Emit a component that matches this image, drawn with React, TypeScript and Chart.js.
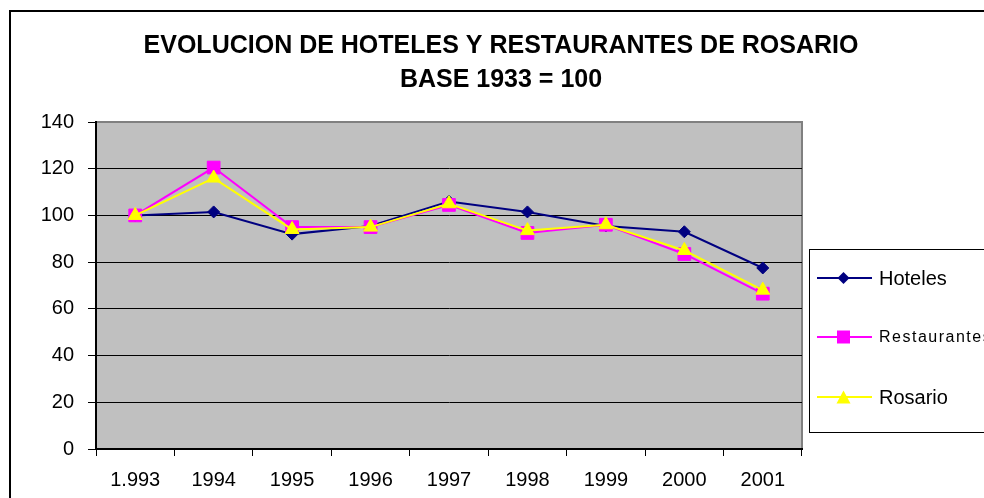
import React, { useEffect, useRef } from "react";
import { Chart, registerables } from "chart.js";

Chart.register(...registerables);

const categories = ["1.993", "1994", "1995", "1996", "1997", "1998", "1999", "2000", "2001"];
const hoteles = [100, 101.5, 92, 95.5, 106, 101.5, 95.5, 93, 77.5];
const restaurantes = [100, 120.5, 95, 95, 104.5, 92.5, 96, 83.5, 66.5];
const rosario = [100, 116, 94, 95, 105, 93.5, 96, 85, 68];
const titleLines = ["EVOLUCION DE HOTELES Y RESTAURANTES DE ROSARIO", "BASE 1933 = 100"];
const seriesNames = ["Hoteles", "Restaurantes", "Rosario"];

const FONT = "'Liberation Sans', Arial, sans-serif";
const W = 984;
const H = 498;

function drawMarker(ctx: CanvasRenderingContext2D, style: string, x: number, y: number, color: string) {
  ctx.fillStyle = color;
  ctx.beginPath();
  if (style === "rectRot") {
    const r = 6;
    ctx.moveTo(x, y - r);
    ctx.lineTo(x + r, y);
    ctx.lineTo(x, y + r);
    ctx.lineTo(x - r, y);
  } else if (style === "rect") {
    const s = 6.5;
    ctx.rect(x - s, y - s, 2 * s, 2 * s);
  } else {
    const hw = 7;
    const hh = 6.5;
    ctx.moveTo(x, y - hh);
    ctx.lineTo(x + hw, y + hh);
    ctx.lineTo(x - hw, y + hh);
  }
  ctx.closePath();
  ctx.fill();
}

const chromePlugin = {
  id: "chrome",
  beforeDraw(chart: any) {
    const { ctx, chartArea: a } = chart;
    ctx.save();
    ctx.fillStyle = "#ffffff";
    ctx.fillRect(0, 0, W, H);
    ctx.strokeStyle = "#000000";
    ctx.lineWidth = 2;
    ctx.strokeRect(10, 11, 1100, 600);
    ctx.fillStyle = "#C0C0C0";
    ctx.fillRect(a.left, a.top, a.right - a.left, a.bottom - a.top);
    ctx.strokeStyle = "#808080";
    ctx.lineWidth = 2;
    ctx.beginPath();
    ctx.moveTo(a.left, a.top);
    ctx.lineTo(a.right, a.top);
    ctx.lineTo(a.right, a.bottom);
    ctx.stroke();
    ctx.restore();
  },
  afterDraw(chart: any) {
    const { ctx } = chart;
    ctx.save();
    // title
    ctx.fillStyle = "#000000";
    ctx.textAlign = "center";
    ctx.textBaseline = "alphabetic";
    ctx.font = `bold 25px ${FONT}`;
    ctx.fillText(titleLines[0], 501, 53);
    ctx.fillText(titleLines[1], 501, 86.5);

    // legend
    ctx.strokeStyle = "#000000";
    ctx.lineWidth = 1;
    ctx.strokeRect(809.5, 249.5, 400, 183);
    const rows = [278, 337, 397];
    chart.data.datasets.forEach((ds: any, i: number) => {
      const y = rows[i];
      ctx.strokeStyle = ds.borderColor;
      ctx.lineWidth = 2;
      ctx.beginPath();
      ctx.moveTo(817, y);
      ctx.lineTo(872, y);
      ctx.stroke();
      drawMarker(ctx, ds.pointStyle, 843.5, y, ds.backgroundColor);
      ctx.fillStyle = "#000000";
      ctx.textAlign = "left";
      ctx.textBaseline = "middle";
      if (i === 1) {
        ctx.font = `16px ${FONT}`;
        (ctx as any).letterSpacing = "1.5px";
      } else {
        ctx.font = `20px ${FONT}`;
        (ctx as any).letterSpacing = "0px";
      }
      ctx.fillText(ds.label, 879, y + 1);
    });
    (ctx as any).letterSpacing = "0px";
    ctx.restore();
  },
};

export default function App() {
  const ref = useRef<HTMLCanvasElement | null>(null);
  useEffect(() => {
    document.body.style.margin = "0";
    const canvas = ref.current;
    if (!canvas) return;
    const chart = new Chart(canvas, {
      type: "line",
      data: {
        labels: categories,
        datasets: [
          {
            label: seriesNames[0],
            data: hoteles,
            borderColor: "#000080",
            backgroundColor: "#000080",
            borderWidth: 2,
            pointStyle: "rectRot",
            pointRadius: 6,
            pointBorderWidth: 1,
            order: 3,
          },
          {
            label: seriesNames[1],
            data: restaurantes,
            borderColor: "#FF00FF",
            backgroundColor: "#FF00FF",
            borderWidth: 2,
            pointStyle: "rect",
            pointRadius: 9,
            pointBorderWidth: 1,
            order: 2,
          },
          {
            label: seriesNames[2],
            data: rosario,
            borderColor: "#FFFF00",
            backgroundColor: "#FFFF00",
            borderWidth: 2,
            pointStyle: "triangle",
            pointRadius: 8,
            pointBorderWidth: 1,
            order: 1,
          },
        ],
      },
      options: {
        responsive: false,
        animation: false,
        devicePixelRatio: 1,
        layout: { padding: { left: 10, top: 122, right: 182, bottom: 9 } },
        plugins: {
          legend: { display: false },
          title: { display: false },
          tooltip: { enabled: false },
        },
        elements: { line: { tension: 0 } },
        scales: {
          x: {
            offset: true,
            grid: {
              offset: true,
              drawOnChartArea: false,
              drawTicks: true,
              tickLength: 7,
              tickColor: "#000000",
              tickWidth: 1,
            },
            border: { display: true, color: "#000000", width: 2 },
            ticks: {
              color: "#000000",
              font: { family: FONT, size: 20 },
              padding: 12,
              maxRotation: 0,
              autoSkip: false,
            },
            afterFit: (s: any) => {
              s.height = 40;
            },
          },
          y: {
            min: 0,
            max: 140,
            grid: {
              color: (c: any) => (c.tick && c.tick.value === 140 ? "rgba(0,0,0,0)" : "#000000"),
              lineWidth: 1,
              tickLength: 8,
              tickColor: "#000000",
            },
            border: { display: true, color: "#000000", width: 2 },
            ticks: {
              stepSize: 20,
              color: "#000000",
              font: { family: FONT, size: 20 },
              padding: 14,
            },
            afterFit: (s: any) => {
              s.width = 86;
            },
          },
        },
      },
      plugins: [chromePlugin],
    });
    return () => chart.destroy();
  }, []);
  return (
    <div style={{ position: "absolute", left: 0, top: 0, width: W, height: H }}>
      <canvas ref={ref} width={W} height={H} style={{ display: "block" }} />
    </div>
  );
}
